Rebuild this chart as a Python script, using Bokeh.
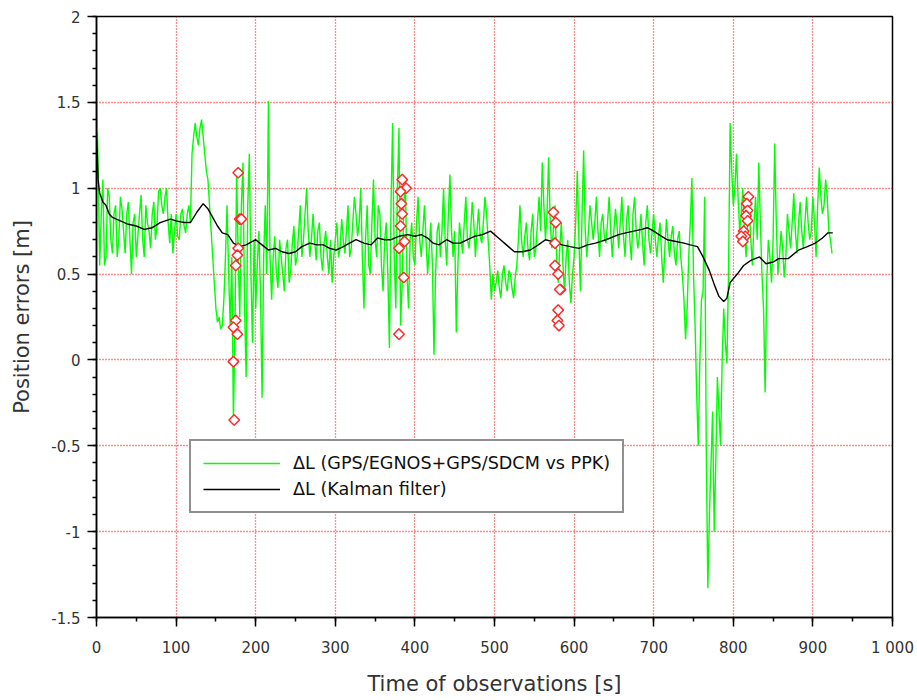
import numpy as np
from bokeh.plotting import figure
from bokeh.models import Range1d, FixedTicker, Legend, LegendItem
from bokeh.embed import file_html
from bokeh.resources import INLINE

# ---------------- data ----------------
# samples at t = 0, 4, 8, ... 924
green_time_a = list(range(0, 925, 4))
green_err_a = [
    # 0 .. 96
    1.58, 0.55, 1.05, 0.60, 0.95, 0.62, 0.90, 0.70, 0.88, 0.62, 0.92, 0.50, 0.85,
    0.72, 0.96, 0.60, 0.80, 0.65, 0.92, 0.78, 1.00, 0.85, 1.00, 0.68, 0.62,
    # 100 .. 196
    0.85, 0.70, 0.88, 0.74, 0.90, 1.20, 1.38, 1.25, 1.40, 1.20, 1.05, 0.75, 0.45,
    0.22, 0.18, 0.35, 0.90, 0.20, -0.35, 1.10, 0.25, 1.15, -0.10, 1.20, 0.10,
    # 200 .. 296
    0.30, 0.75, -0.22, 0.90, 1.51, 0.35, 0.72, 0.42, 0.60, 0.40, 0.70, 0.52, 0.78,
    0.60, 0.90, 0.70, 1.00, 0.60, 0.85, 0.58, 0.80, 0.52, 0.75, 0.50, 0.45,
    # 300 .. 396
    0.70, 0.60, 0.82, 0.62, 0.90, 0.65, 0.95, 0.72, 1.00, 0.30, 0.90, 0.50, 1.05,
    0.60, 0.85, 0.40, 0.80, 0.07, 1.38, 0.30, 1.35, 0.45, 1.05, 0.30, 0.80,
    # 400 .. 496
    0.55, 0.95, 0.60, 0.90, 0.50, 0.80, 0.03, 0.75, 0.60, 1.00, 0.55, 1.08, 0.60,
    0.16, 0.80, 0.62, 0.95, 0.65, 0.92, 0.60, 0.88, 0.68, 0.95, 0.70, 0.35,
    # 500 .. 596
    0.40, 0.52, 0.36, 0.55, 0.40, 0.50, 0.36, 0.55, 0.90, 0.60, 0.80, 0.58, 0.85,
    0.65, 0.95, 1.15, 0.70, 1.18, 0.65, 0.90, 0.45, 0.80, 0.40, 0.70, 0.33,
    # 600 .. 696
    0.60, 1.10, 0.40, 1.22, 0.60, 0.90, 0.70, 0.95, 0.60, 0.85, 0.68, 0.95, 0.60,
    0.88, 0.65, 0.95, 0.60, 0.90, 0.58, 0.95, 0.65, 0.85, 0.55, 0.90, 0.62,
    # 700 .. 796
    0.85, 0.60, 0.80, 0.45, 0.82, 0.60, 0.78, 0.55, 0.75, 0.50, 0.12, 0.60, 1.06,
    0.20, -0.50, 0.35, 0.95, -1.33, -0.60, -1.00, -0.10, -0.50, 0.30, -0.02, 1.38,
    # 800 .. 924
    0.90, 1.20, 0.75, 1.00, 0.60, 0.90, 0.55, 0.95, 1.15, 0.50, -0.19, 0.70, 0.45,
    1.26, 0.50, 0.75, 0.48, 0.85, 0.65, 0.97, 0.62, 0.92, 0.65, 0.95, 0.70, 0.95,
    0.60, 1.12, 0.85, 1.05, 0.75, 0.62,
]
# samples at t = 2, 6, 10, ... 922
green_time_b = list(range(2, 923, 4))
green_err_b = [
    # 2 .. 98
    1.15, 0.85, 0.55, 1.00, 0.70, 0.85, 0.60, 0.95, 0.75, 0.85, 0.70, 0.80, 0.60,
    0.85, 0.70, 0.90, 0.75, 0.85, 0.70, 0.98, 0.90, 0.95, 0.80, 0.85, 0.75,
    # 102 .. 198
    0.72, 0.85, 0.78, 0.85, 0.80, 1.30, 1.30, 1.35, 1.30, 1.10, 0.90, 0.60, 0.30,
    0.25, 0.20, 0.60, 0.50, 0.60, 0.20, 0.60, 0.90, 0.30, 0.90, 0.50, 0.70,
    # 202 .. 298
    0.55, 0.40, 0.60, 0.50, 0.60, 0.60, 0.50, 0.70, 0.50, 0.65, 0.45, 0.68, 0.55,
    0.75, 0.60, 0.85, 0.75, 0.70, 0.70, 0.75, 0.60, 0.68, 0.60, 0.70, 0.60,
    # 302 .. 398
    0.80, 0.65, 0.70, 0.75, 0.60, 0.80, 0.85, 0.80, 0.60, 0.70, 0.55, 0.80, 0.70,
    0.90, 0.55, 0.70, 0.50, 0.90, 0.60, 1.00, 0.20, 0.90, 0.50, 0.70, 0.60,
    # 402 .. 498
    0.80, 0.70, 0.75, 0.70, 0.65, 0.55, 0.50, 0.80, 0.75, 0.70, 0.85, 0.75, 0.75,
    0.55, 0.70, 0.80, 0.70, 0.75, 0.80, 0.75, 0.72, 0.80, 0.85, 0.55, 0.50,
    # 502 .. 598
    0.45, 0.42, 0.50, 0.45, 0.52, 0.42, 0.48, 0.70, 0.70, 0.72, 0.65, 0.75, 0.60,
    0.80, 0.75, 0.90, 0.85, 0.80, 0.75, 0.60, 0.65, 0.55, 0.60, 0.45, 0.50,
    # 602 .. 698
    0.80, 0.70, 0.85, 0.75, 0.75, 0.80, 0.80, 0.75, 0.80, 0.72, 0.80, 0.75, 0.75,
    0.78, 0.80, 0.72, 0.82, 0.70, 0.85, 0.75, 0.72, 0.68, 0.80, 0.70, 0.75,
    # 702 .. 798
    0.70, 0.72, 0.60, 0.65, 0.70, 0.72, 0.62, 0.70, 0.60, 0.35, 0.30, 0.80, 0.50,
    -0.20, 0.00, 0.40, -0.50, -0.90, -0.30, -0.60, -0.30, 0.00, 0.10, 0.50, 1.10,
    # 802 .. 922
    1.00, 0.95, 0.85, 0.75, 0.80, 0.70, 0.80, 0.70, 0.80, 0.30, 0.45, 0.60, 0.70,
    0.80, 0.60, 0.65, 0.60, 0.75, 0.80, 0.75, 0.80, 0.75, 0.80, 0.80, 0.75, 0.80,
    0.90, 0.95, 0.90, 0.95, 0.70,
]

kalman_time = [0, 2, 4, 8, 12, 16, 20, 30, 40, 50, 60, 70, 80, 93, 100, 110, 118,
               126, 134, 140, 146, 152, 158, 165, 172, 180, 188, 200, 208, 216,
               225, 233, 242, 250, 258, 268, 277, 285, 293, 301, 310, 318, 326,
               336, 345, 353, 362, 370, 380, 391, 400, 408, 416, 423, 430, 440,
               448, 457, 466, 475, 485, 495, 505, 515, 525, 535, 545, 555, 564,
               572, 585, 595, 606, 617, 627, 640, 656, 665, 675, 685, 692, 700,
               710, 717, 728, 738, 746, 755, 762, 770, 776, 782, 788, 792, 796,
               805, 813, 822, 833, 841, 850, 857, 869, 882, 893, 903, 912, 919, 925]
kalman_err = [1.33, 1.05, 0.97, 0.92, 0.90, 0.85, 0.83, 0.81, 0.79, 0.78, 0.76,
              0.77, 0.80, 0.82, 0.81, 0.80, 0.80, 0.86, 0.91, 0.88, 0.83, 0.78,
              0.74, 0.73, 0.68, 0.66, 0.67, 0.70, 0.67, 0.64, 0.65, 0.63, 0.62,
              0.63, 0.66, 0.68, 0.67, 0.67, 0.65, 0.64, 0.66, 0.68, 0.70, 0.68,
              0.67, 0.71, 0.70, 0.70, 0.72, 0.73, 0.72, 0.73, 0.71, 0.68, 0.67,
              0.70, 0.68, 0.68, 0.70, 0.72, 0.73, 0.75, 0.71, 0.67, 0.63, 0.63,
              0.64, 0.67, 0.70, 0.69, 0.67, 0.66, 0.65, 0.67, 0.68, 0.70, 0.73,
              0.74, 0.75, 0.76, 0.77, 0.75, 0.72, 0.70, 0.69, 0.68, 0.67, 0.66,
              0.60, 0.52, 0.44, 0.37, 0.34, 0.36, 0.45, 0.50, 0.55, 0.58, 0.60,
              0.56, 0.57, 0.59, 0.59, 0.64, 0.66, 0.68, 0.71, 0.74, 0.74]

outlier_time = [178, 180, 182, 178, 177, 175, 175, 172, 177, 172, 173,
                384, 389, 382, 383, 384, 382, 387, 380, 386, 380,
                574, 577, 576, 576, 580, 583, 582, 580, 579, 581,
                819, 817, 818, 816, 818, 813, 815, 810, 812]
outlier_err = [1.09, 0.82, 0.82, 0.65, 0.61, 0.55, 0.23, 0.19, 0.15, -0.01, -0.35,
               1.05, 1.00, 0.98, 0.91, 0.85, 0.78, 0.69, 0.65, 0.48, 0.15,
               0.86, 0.80, 0.68, 0.55, 0.50, 0.41, 0.41, 0.29, 0.23, 0.20,
               0.95, 0.91, 0.87, 0.84, 0.81, 0.75, 0.72, 0.72, 0.69]

x_ticks = [0, 100, 200, 300, 400, 500, 600, 700, 800, 900, 1000]
x_tick_labels = ["0", "100", "200", "300", "400", "500", "600", "700", "800", "900", "1 000"]
y_ticks = [-1.5, -1.0, -0.5, 0.0, 0.5, 1.0, 1.5, 2.0]
y_tick_labels = ["-1.5", "-1", "-0.5", "0", "0.5", "1", "1.5", "2"]

legend_labels = ["\u0394L (GPS/EGNOS+GPS/SDCM vs PPK)", "\u0394L (Kalman filter)"]
x_title = "Time of observations [s]"
y_title = "Position errors [m]"

# merge the two sample sets in time order
pairs = sorted(zip(green_time_a + green_time_b, green_err_a + green_err_b))
green_time = [t for t, _ in pairs]
green_err = [v for _, v in pairs]

# ---------------- figure ----------------
FONT = "DejaVu Sans"
W, H = 915, 698
p = figure(width=W, height=H, output_backend="svg", toolbar_location=None,
           x_range=Range1d(0, 1000), y_range=Range1d(-1.5, 2),
           min_border_left=96, min_border_right=W - 892, min_border_top=16,
           min_border_bottom=H - 617)
p.background_fill_color = "white"
p.border_fill_color = "white"
p.outline_line_color = "black"
p.outline_line_width = 1.5
p.outline_line_alpha = 1.0

x_minor = list(range(0, 1001, 50))
y_minor = [round(v, 2) for v in np.arange(-1.5, 2.001, 0.1)]
p.xaxis.ticker = FixedTicker(ticks=x_ticks, minor_ticks=x_minor)
p.yaxis.ticker = FixedTicker(ticks=y_ticks, minor_ticks=y_minor)
p.xgrid.ticker = FixedTicker(ticks=x_ticks)
p.ygrid.ticker = FixedTicker(ticks=y_ticks)
p.xaxis.major_label_overrides = {float(t): s for t, s in zip(x_ticks, x_tick_labels)}
p.yaxis.major_label_overrides = {float(t): s for t, s in zip(y_ticks, y_tick_labels)}

for g in (p.xgrid, p.ygrid):
    g.grid_line_color = "#ff0000"
    g.grid_line_dash = "1 2"
    g.grid_line_width = 1.3
    g.grid_line_alpha = 0.9

for ax in (p.xaxis, p.yaxis):
    ax.axis_line_color = "black"
    ax.axis_line_width = 1.5
    ax.major_tick_line_color = "black"
    ax.major_tick_line_width = 1.5
    ax.minor_tick_line_color = "black"
    ax.minor_tick_line_width = 1.5
    ax.major_tick_out = 9
    ax.major_tick_in = 0
    ax.minor_tick_out = 4
    ax.minor_tick_in = 0
    ax.major_label_text_font = FONT
    ax.major_label_text_font_size = "15px"
    ax.major_label_text_color = "#333333"
    ax.axis_label_text_font = FONT
    ax.axis_label_text_font_size = "21px"
    ax.axis_label_text_font_style = "normal"
    ax.axis_label_text_color = "#333333"

p.xaxis.axis_label = x_title
p.yaxis.axis_label = y_title
p.xaxis.major_label_standoff = 12
p.yaxis.major_label_standoff = 7
p.xaxis.axis_label_standoff = 12
p.yaxis.axis_label_standoff = 14

r_green = p.line(green_time, green_err, line_color="#00ff00", line_width=1.4)
r_kal = p.line(kalman_time, kalman_err, line_color="black", line_width=1.4)
p.scatter(outlier_time, outlier_err, marker="square", angle=np.pi / 4, size=7.5,
          line_color="#ff2a2a", fill_color="white", line_width=1.5)

legend = Legend(items=[LegendItem(label=legend_labels[0], renderers=[r_green]),
                       LegendItem(label=legend_labels[1], renderers=[r_kal])],
                location=(93, 104))
legend.border_line_color = "#222222"
legend.border_line_width = 2
legend.background_fill_color = "white"
legend.background_fill_alpha = 1.0
legend.label_text_font = FONT
legend.label_text_font_size = "17.6px"
legend.label_text_color = "#111111"
legend.glyph_width = 77
legend.glyph_height = 20
legend.label_height = 20
legend.label_standoff = 13
legend.padding = 12
legend.spacing = 6
legend.margin = 0
p.add_layout(legend)

open("out.html", "w").write(file_html(p, INLINE))
